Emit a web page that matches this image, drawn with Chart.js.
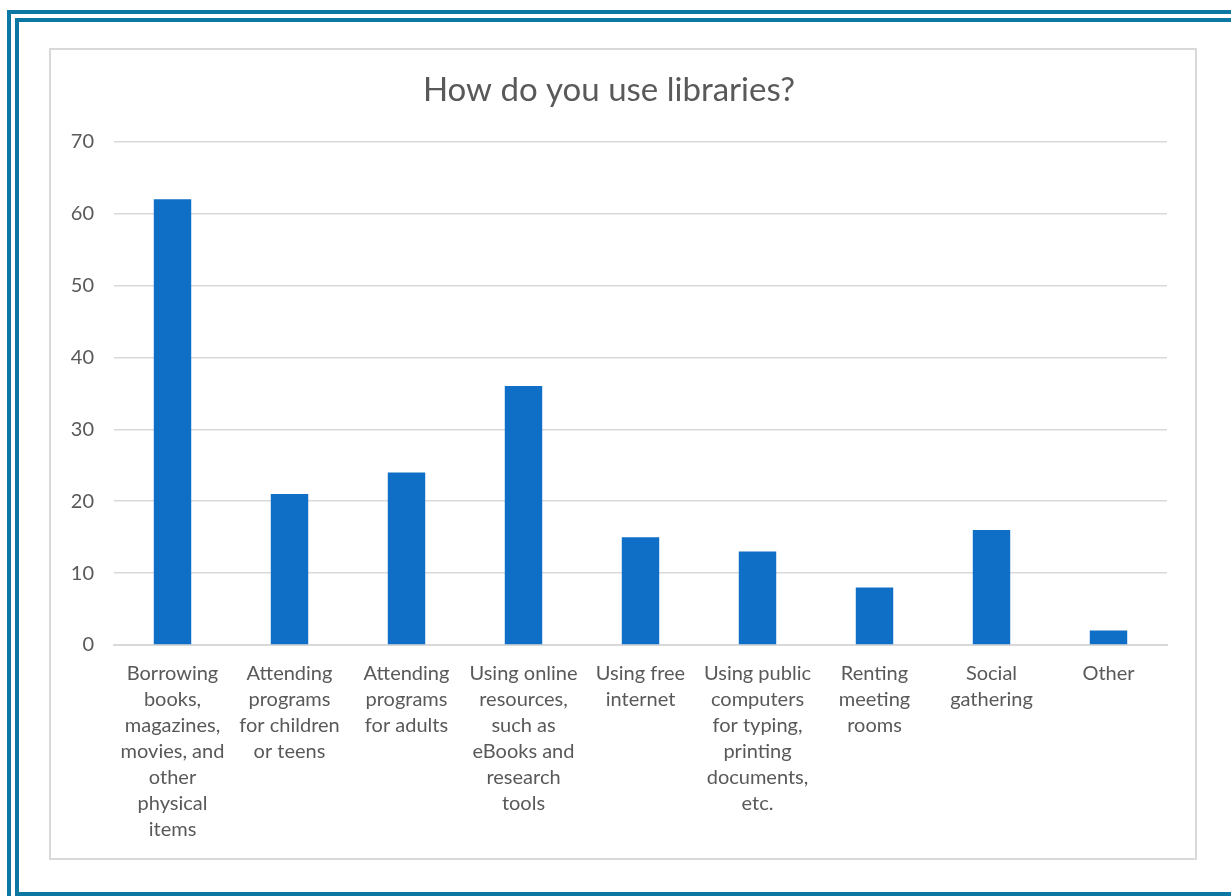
<!DOCTYPE html>
<html>
<head>
<meta charset="utf-8">
<script src="https://cdn.jsdelivr.net/npm/chart.js@4"></script>
<style>
  html, body { margin: 0; padding: 0; background: #fff; width: 1231px; height: 896px; overflow: hidden; }
  .outer { position: absolute; left: 7px; top: 10px; width: 1240px; height: 900px; border: 4px solid #0a78a3; box-sizing: border-box; }
  .inner { position: absolute; left: 15px; top: 18px; width: 1240px; height: 878px; border: 4px solid #0a78a3; border-right: none; box-sizing: border-box; }
  .box { position: absolute; left: 49px; top: 48px; width: 1148px; height: 812px; border: 2px solid #d9d9d9; box-sizing: border-box; background: #fff; }
  #chart { position: absolute; left: 0; top: 0; }
</style>
</head>
<body>
<div class="outer"></div>
<div class="inner"></div>
<div class="box"><canvas id="chart" width="1144" height="808"></canvas></div>
<script>
const categories = [
  ["Borrowing", "books,", "magazines,", "movies, and", "other", "physical", "items"],
  ["Attending", "programs", "for children", "or teens"],
  ["Attending", "programs", "for adults"],
  ["Using online", "resources,", "such as", "eBooks and", "research", "tools"],
  ["Using free", "internet"],
  ["Using public", "computers", "for typing,", "printing", "documents,", "etc."],
  ["Renting", "meeting", "rooms"],
  ["Social", "gathering"],
  ["Other"]
];
const counts = [62, 21, 24, 36, 15, 13, 8, 16, 2];
const yTicks = [0, 10, 20, 30, 40, 50, 60, 70];

const font = "'Lato', 'Open Sans', sans-serif";
const textColor = "#595959";

const ctx = document.getElementById('chart').getContext('2d');

const myChart = new Chart(ctx, {
  type: 'bar',
  data: {
    labels: categories,
    datasets: [{
      data: counts,
      backgroundColor: "#0f6fc6",
      barPercentage: 0.32,
      categoryPercentage: 1
    }]
  },
  options: {
    responsive: false,
    animation: false,
    layout: { padding: { left: 0, right: 28, top: 0, bottom: 0 } },
    plugins: {
      legend: { display: false },
      tooltip: { enabled: false },
      title: {
        display: true,
        text: "How do you use libraries?",
        color: textColor,
        font: { family: font, size: 33, weight: 'normal' },
        padding: { top: 21, bottom: 31 }
      }
    },
    scales: {
      x: {
        grid: { display: false, drawTicks: false },
        border: { color: "#d9d9d9", width: 2 },
        ticks: {
          color: textColor,
          font: { family: font, size: 20, lineHeight: 1.3 },
          maxRotation: 0,
          autoSkip: false,
          padding: 16
        },
        afterFit: (axis) => { axis.height = 213; }
      },
      y: {
        min: 0,
        max: 70,
        afterBuildTicks: (axis) => { axis.ticks = yTicks.map(v => ({ value: v })); },
        grid: { color: "#d9d9d9", lineWidth: 1.5, drawTicks: false },
        border: { display: false },
        ticks: {
          color: textColor,
          font: { family: font, size: 20 },
          padding: 20
        },
        afterFit: (axis) => { axis.width = 63; }
      }
    }
  }
});
</script>
</body>
</html>
